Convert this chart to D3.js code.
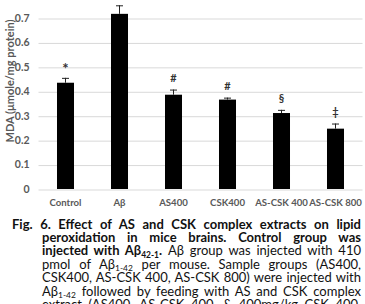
<!DOCTYPE html>
<html><head><meta charset="utf-8">
<script src="https://cdn.jsdelivr.net/npm/d3@7"></script>
<style>
html,body{margin:0;padding:0;background:#fff;width:365px;height:304px;overflow:hidden;}
svg{display:block;}
</style></head><body>
<svg id="chart" width="365" height="304"></svg>
<script>
const categories = ["Control", "Aβ", "AS400", "CSK400", "AS-CSK 400", "AS-CSK 800"];
const values = [0.435, 0.717, 0.386, 0.366, 0.311, 0.247];
const errors = [0.020, 0.035, 0.021, 0.008, 0.013, 0.021];
const markers = ["*", "", "#", "#", "§", "‡"];
const yTicks = [0, 0.1, 0.2, 0.3, 0.4, 0.5, 0.6, 0.7];
const yTitle = "MDA (μmole/mg protein)";
// caption runs: [text, bold, subscript]
const captionLines = [
  [["Fig. 6. Effect of AS and CSK complex extracts on lipid", 1, 0]],
  [["peroxidation in mice brains. Control group was", 1, 0]],
  [["injected with Aβ", 1, 0], ["42-1", 1, 1], [".", 1, 0], [" Aβ group was injected with 410", 0, 0]],
  [["pmol of Aβ", 0, 0], ["1-42", 0, 1], [" per mouse. Sample groups (AS400,", 0, 0]],
  [["CSK400, AS-CSK 400, AS-CSK 800) were injected with", 0, 0]],
  [["Aβ", 0, 0], ["1-42", 0, 1], [" followed by feeding with AS and CSK complex", 0, 0]],
  [["extract (AS400, AS-CSK 400, & 400mg/kg CSK 400,", 0, 0]]
];

const svg = d3.select("#chart");
const font = "Lato, 'Open Sans', sans-serif";
const x = d3.scaleBand().domain(categories).range([38.5, 362.5]).paddingInner(0.685).paddingOuter(0.3425);
const y = d3.scaleLinear().domain([0, 0.7]).range([189, 18]);

const gy = svg.append("g").attr("transform", "translate(38.5,0)")
  .call(d3.axisLeft(y).tickValues(yTicks).tickSizeInner(-324).tickSizeOuter(0).tickPadding(9)
    .tickFormat(d => d === 0 ? "0" : d.toFixed(1)));
gy.select(".domain").remove();
gy.selectAll(".tick line").attr("stroke", "#d9d9d9").attr("stroke-width", 1)
  .attr("transform", "translate(0,0.5)");
gy.selectAll(".tick text").attr("fill", "#595959").attr("font-family", font)
  .attr("font-size", 10.5).attr("font-weight", "bold");

const gx = svg.append("g").attr("transform", "translate(0,189)")
  .call(d3.axisBottom(x).tickSize(0).tickPadding(10));
gx.select(".domain").remove();
gx.selectAll(".tick text").attr("fill", "#595959").attr("font-family", font)
  .attr("font-size", 9.6).attr("font-weight", "bold");

const data = categories.map((c, i) => ({c, v: values[i], e: errors[i], m: markers[i]}));

svg.append("g").selectAll("rect").data(data).join("rect")
  .attr("x", d => x(d.c)).attr("width", x.bandwidth())
  .attr("y", d => y(d.v)).attr("height", d => y(0) - y(d.v)).attr("fill", "#000");

const eb = svg.append("g").attr("stroke", "#222").attr("stroke-width", 1);
eb.selectAll("line.v").data(data).join("line").attr("class", "v")
  .attr("x1", d => x(d.c) + x.bandwidth() / 2).attr("x2", d => x(d.c) + x.bandwidth() / 2)
  .attr("y1", d => y(d.v)).attr("y2", d => y(d.v + d.e));
eb.selectAll("line.ecap").data(data).join("line").attr("class", "ecap")
  .attr("x1", d => x(d.c) + x.bandwidth() / 2 - 3.5).attr("x2", d => x(d.c) + x.bandwidth() / 2 + 3.5)
  .attr("y1", d => y(d.v + d.e) + 0.5).attr("y2", d => y(d.v + d.e) + 0.5);

svg.append("g").selectAll("text").data(data.filter(d => d.m)).join("text")
  .attr("x", d => x(d.c) + x.bandwidth() / 2).attr("y", d => y(d.v + d.e) - (d.m === "*" ? 4 : 8))
  .attr("text-anchor", "middle").attr("font-family", font)
  .attr("font-size", d => d.m === "*" ? 15 : 11).attr("font-weight", "bold")
  .attr("fill", "#333").text(d => d.m);

svg.append("text").attr("transform", "translate(9,81) rotate(-90)")
  .attr("text-anchor", "middle").attr("dominant-baseline", "central")
  .attr("font-family", font).attr("font-size", 11).attr("font-weight", "bold").attr("fill", "#595959")
  .text(yTitle);

// caption: justified lines, word-spacing computed from measured widths
const capG = svg.append("g").attr("font-family", font).attr("fill", "#111");
const lineGap = 13.4, firstBaseline = 228.5;
let fs = 13;
const texts = captionLines.map((runs, i) => {
  const left = i === 0 ? 12 : 42;
  const t = capG.append("text").attr("x", left).attr("y", firstBaseline + i * lineGap)
    .attr("font-size", fs);
  let prevSub = false;
  runs.forEach(r => {
    const ts = t.append("tspan").attr("font-weight", r[1] ? "bold" : "normal").text(r[0]);
    if (r[2]) ts.attr("font-size", fs * 0.65).attr("dy", 2.5);
    else if (prevSub) ts.attr("dy", -2.5);
    prevSub = !!r[2];
  });
  return {t, left, w: 361 - left, runs};
});
let scale = 1;
texts.forEach(o => {
  const s = o.w / o.t.node().getComputedTextLength();
  if (s < scale) scale = s;
});
if (scale < 1) {
  fs *= scale;
  texts.forEach(o => {
    o.t.attr("font-size", fs);
    o.t.selectAll("tspan").each(function (d, j) {
      if (o.runs[j][2]) d3.select(this).attr("font-size", fs * 0.65);
    });
  });
}
texts.forEach(o => {
  const nw = o.t.node().getComputedTextLength();
  const spaces = o.runs.map(r => r[0]).join("").split(" ").length - 1;
  if (spaces > 0) o.t.style("word-spacing", ((o.w - nw) / spaces) + "px");
});
</script>
</body></html>
